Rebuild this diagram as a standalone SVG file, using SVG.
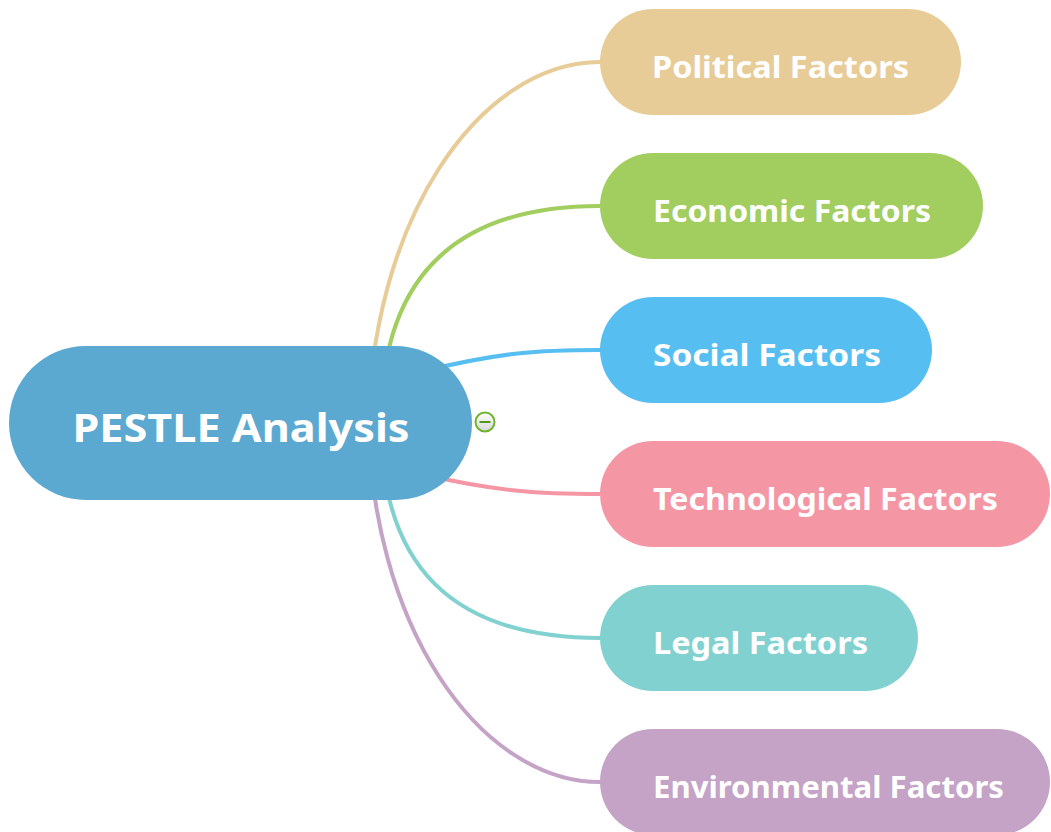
<svg xmlns="http://www.w3.org/2000/svg" width="1051" height="832" viewBox="0 0 1051 832">
<style>
.conn{fill:none;stroke-width:4;stroke-linecap:round}
.lbl{font-family:"Noto Sans","DejaVu Sans",sans-serif;font-weight:bold;fill:#ffffff}
.child{font-size:30px}
</style>
<defs>
<linearGradient id="btn" x1="0" y1="0" x2="0" y2="1">
<stop offset="0" stop-color="#ffffff"/>
<stop offset="1" stop-color="#d8d8d8"/>
</linearGradient>
</defs>
<rect width="1051" height="832" fill="#ffffff"/>
<g id="connectors">
<path class="conn" stroke="#E8CC97" d="M 368 440 C 368 220 480 62 600 62"/>
<path class="conn" stroke="#A2CD5F" d="M 381 423 C 381 280 452 206 600 206"/>
<path class="conn" stroke="#56BEF0" d="M 420 372 C 500 352 540 350 600 350"/>
<path class="conn" stroke="#F596A4" d="M 420 474 C 500 492 540 494 600 494"/>
<path class="conn" stroke="#82D1D1" d="M 381 423 C 381 566 452 638 600 638"/>
<path class="conn" stroke="#C4A3C7" d="M 368 406 C 368 626 480 782 600 782"/>
</g>
<g id="central">
<rect x="9" y="346" width="463" height="154" rx="77" fill="#5BA8D0"/>
<text class="lbl" x="241" y="442" font-size="40" text-anchor="middle" textLength="337" lengthAdjust="spacingAndGlyphs">PESTLE Analysis</text>
</g>
<g id="collapse">
<circle cx="485" cy="422" r="9.5" fill="url(#btn)" stroke="#6FB52C" stroke-width="2"/>
<line x1="479.5" y1="422" x2="490.5" y2="422" stroke="#4E9A1E" stroke-width="2"/>
</g>
<g id="political">
<rect x="600" y="9" width="361" height="106" rx="53" fill="#E8CC97"/>
<text class="lbl child" x="652" y="78" textLength="257" lengthAdjust="spacingAndGlyphs">Political Factors</text>
</g>
<g id="economic">
<rect x="600" y="153" width="383" height="106" rx="53" fill="#A2CD5F"/>
<text class="lbl child" x="653" y="222" textLength="278" lengthAdjust="spacingAndGlyphs">Economic Factors</text>
</g>
<g id="social">
<rect x="600" y="297" width="332" height="106" rx="53" fill="#56BEF0"/>
<text class="lbl child" x="653" y="366" textLength="228" lengthAdjust="spacingAndGlyphs">Social Factors</text>
</g>
<g id="technological">
<rect x="600" y="441" width="450" height="106" rx="53" fill="#F596A4"/>
<text class="lbl child" x="653" y="510" textLength="345" lengthAdjust="spacingAndGlyphs">Technological Factors</text>
</g>
<g id="legal">
<rect x="600" y="585" width="318" height="106" rx="53" fill="#82D1D1"/>
<text class="lbl child" x="653" y="654" textLength="215" lengthAdjust="spacingAndGlyphs">Legal Factors</text>
</g>
<g id="environmental">
<rect x="600" y="729" width="450" height="106" rx="53" fill="#C4A3C7"/>
<text class="lbl child" x="653" y="798" textLength="351" lengthAdjust="spacingAndGlyphs">Environmental Factors</text>
</g>
</svg>
